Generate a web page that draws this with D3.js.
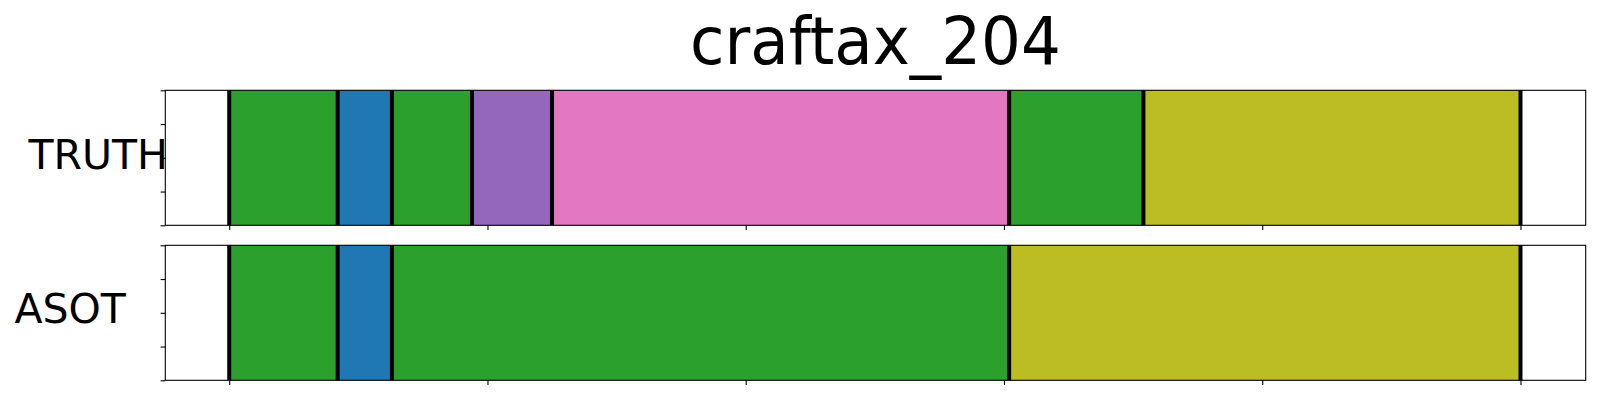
<!DOCTYPE html>
<html>
<head>
<meta charset="utf-8">
<script src="https://cdn.jsdelivr.net/npm/d3@7"></script>
<style>
  html, body { margin: 0; padding: 0; background: #fff; }
  svg { display: block; font-family: "DejaVu Sans", sans-serif; }
</style>
</head>
<body>
<svg id="chart" width="1600" height="400"></svg>
<script>
// ---- data ----
const title = "craftax_204";
const rowNames = ["TRUTH", "ASOT"];
const truthBounds = [0, 42, 63, 94, 125, 302, 354, 500];
const truthActions = [2, 0, 2, 4, 6, 2, 8];
const asotBounds = [0, 42, 63, 302, 500];
const asotActions = [2, 0, 2, 8];
const xTickValues = [0, 100, 200, 300, 400, 500];
const yTickValues = [0, 0.25, 0.5, 0.75, 1];

// ---- layout ----
const svg = d3.select("#chart");
const left = 165.3, right = 1585.7;
const panelTops = [90.3, 245.3];
const panelH = 135;
const labelPos = [{x: 28.5, y: 169}, {x: 14.5, y: 323.3}];
const color = d3.scaleOrdinal().domain(d3.range(10)).range(d3.schemeCategory10);

const x = d3.scaleLinear().domain([-24.75, 525.25]).range([left, right]);

svg.append("text")
  .attr("transform", `translate(${(left + right) / 2},63.5) scale(0.98,1.04)`)
  .attr("text-anchor", "middle")
  .attr("font-size", 64)
  .attr("fill", "#000")
  .text(title);

const rows = [
  {bounds: truthBounds, actions: truthActions},
  {bounds: asotBounds, actions: asotActions}
];

rows.forEach((row, i) => {
  const top = panelTops[i];
  const y = d3.scaleLinear().domain([0, 1]).range([top + panelH, top]);
  const g = svg.append("g");

  const segs = row.actions.map((a, j) => ({start: row.bounds[j], end: row.bounds[j + 1], a}));
  g.selectAll("rect.seg").data(segs).enter().append("rect")
    .attr("class", "seg")
    .attr("x", d => x(d.start))
    .attr("width", d => x(d.end) - x(d.start))
    .attr("y", y(1))
    .attr("height", y(0) - y(1))
    .attr("fill", d => color(d.a));

  g.selectAll("line.bd").data(row.bounds).enter().append("line")
    .attr("class", "bd")
    .attr("x1", d => x(d)).attr("x2", d => x(d))
    .attr("y1", y(1)).attr("y2", y(0))
    .attr("stroke", "#000")
    .attr("stroke-width", 4);

  // axes
  const ya = g.append("g")
    .attr("transform", `translate(${left},0)`)
    .call(d3.axisLeft(y).tickValues(yTickValues).tickFormat("").tickSize(4.7).tickSizeOuter(0));
  ya.select(".domain").remove();
  ya.selectAll("line").attr("stroke", "#000").attr("stroke-width", 1.1);

  const xa = g.append("g")
    .attr("transform", `translate(0,${top + panelH})`)
    .call(d3.axisBottom(x).tickValues(xTickValues).tickFormat("").tickSize(4.7).tickSizeOuter(0));
  xa.select(".domain").remove();
  xa.selectAll("line").attr("stroke", "#000").attr("stroke-width", 1.1);

  // spines
  g.append("rect")
    .attr("x", left).attr("y", top)
    .attr("width", right - left).attr("height", panelH)
    .attr("fill", "none")
    .attr("stroke", "#000")
    .attr("stroke-width", 1.1);

  svg.append("text")
    .attr("x", labelPos[i].x)
    .attr("y", labelPos[i].y)
    .attr("font-size", 41)
    .attr("fill", "#000")
    .text(rowNames[i]);
});
</script>
</body>
</html>
